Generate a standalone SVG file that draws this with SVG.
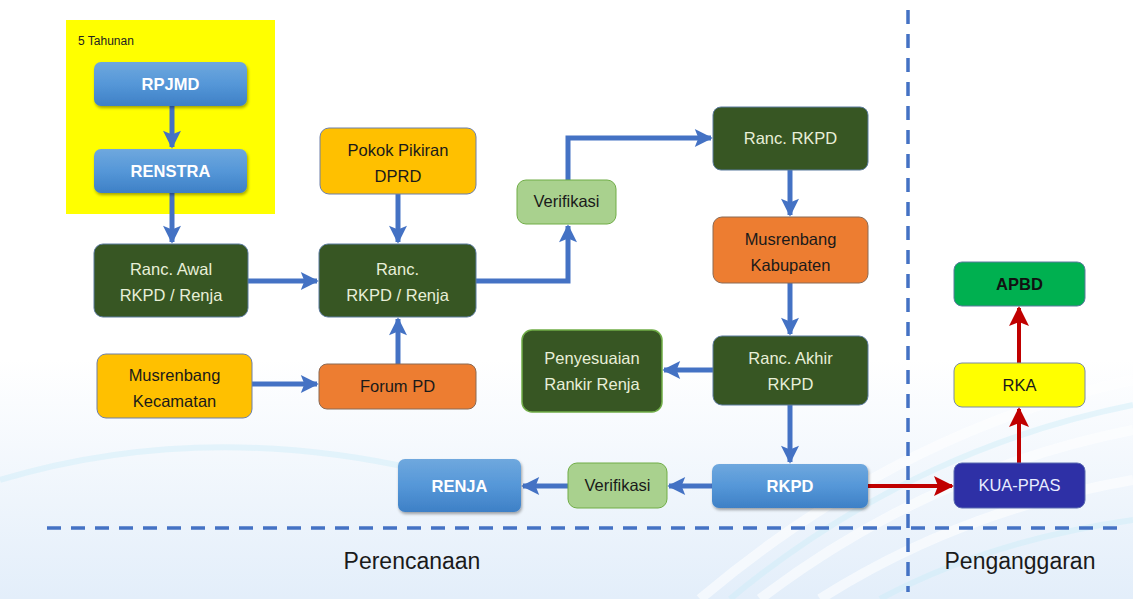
<svg xmlns="http://www.w3.org/2000/svg" width="1133" height="599" viewBox="0 0 1133 599">
<defs>
<linearGradient id="bg" x1="0" y1="0" x2="0" y2="1">
<stop offset="0" stop-color="#ffffff"/>
<stop offset="0.6" stop-color="#ffffff"/>
<stop offset="1" stop-color="#e3eefa"/>
</linearGradient>
<linearGradient id="blueg" x1="0" y1="0" x2="0" y2="1">
<stop offset="0" stop-color="#6fa8de"/>
<stop offset="0.5" stop-color="#5597d8"/>
<stop offset="1" stop-color="#3e80c6"/>
</linearGradient>
<filter id="sh" x="-10%" y="-10%" width="130%" height="140%">
<feDropShadow dx="1" dy="2" stdDeviation="1.5" flood-color="#000" flood-opacity="0.35"/>
</filter>
<marker id="ab" viewBox="0 0 10 10" refX="9" refY="5" markerWidth="4" markerHeight="3.6" orient="auto" markerUnits="strokeWidth">
<path d="M0,0 L10,5 L0,10 L2,5 Z" fill="#4472c4"/>
</marker>
<marker id="ar" viewBox="0 0 10 10" refX="9" refY="5" markerWidth="5.5" markerHeight="5" orient="auto" markerUnits="strokeWidth">
<path d="M0,0 L10,5 L0,10 L2,5 Z" fill="#c00000"/>
</marker>
<style>
.t{font-family:"Liberation Sans",Arial,sans-serif;font-size:16.5px;text-anchor:middle}
.lt{fill:#e8efd8}
.dk{fill:#1a1a1a}
.wb{fill:#ffffff;font-weight:bold}
.dg{fill:#375623;stroke:#5b7a9e;stroke-width:1}
.bl{fill:url(#blueg);filter:url(#sh)}
.or{fill:#ed7d31;stroke:#8a6a55;stroke-width:1}
.gd{fill:#ffc000;stroke:#6d7fa8;stroke-width:1}
.lg{fill:#a9d18e;stroke:#70ad47;stroke-width:1}
.c{fill:none;stroke:#4472c4;stroke-width:5;marker-end:url(#ab)}
.r{fill:none;stroke:#c00000;stroke-width:4;marker-end:url(#ar)}
.d{fill:none;stroke:#4472c4;stroke-width:3.5;stroke-dasharray:14,10}
</style>
</defs>
<rect width="1133" height="599" fill="url(#bg)"/>
<g opacity="0.6" fill="none" stroke="#ffffff" stroke-width="10">
<path d="M700,599 Q900,430 1133,380"/>
<path d="M760,599 Q930,470 1133,430"/>
<path d="M820,599 Q960,510 1133,480"/>
</g>
<g opacity="0.4" fill="none" stroke="#c8ecf8" stroke-width="6">
<path d="M730,599 Q910,450 1133,405"/>
<path d="M880,599 Q990,540 1133,520"/>
<path d="M0,480 Q200,420 420,470"/>
</g>

<g id="dividers">
<path class="d" d="M47,528 H1125"/>
<path class="d" d="M908,10 V592"/>
</g>

<g id="region-5tahunan">
<rect x="66" y="20" width="209" height="194" fill="#ffff00"/>
<text x="78" y="45" font-family="Liberation Sans,Arial,sans-serif" font-size="12" fill="#222">5 Tahunan</text>
</g>

<g id="connectors">
<path class="c" d="M172,106 V147"/>
<path class="c" d="M172,193 V242"/>
<path class="c" d="M248,281 H317"/>
<path class="c" d="M398,194 V242"/>
<path class="c" d="M398,364 V319"/>
<path class="c" d="M252,384 H317"/>
<path class="c" d="M476,281 H568 V226"/>
<path class="c" d="M568,180 V138 H711"/>
<path class="c" d="M790,170 V215"/>
<path class="c" d="M790,283 V334"/>
<path class="c" d="M713,370 H664"/>
<path class="c" d="M790,405 V462"/>
<path class="c" d="M712,486 H669"/>
<path class="c" d="M568,486 H523"/>
<path class="r" d="M868,486 H952"/>
<path class="r" d="M1019,463 V409"/>
<path class="r" d="M1019,363 V308"/>
</g>

<g id="rpjmd"><rect class="bl" x="94" y="62" width="153" height="44" rx="7"/><text class="t wb" x="170.5" y="90">RPJMD</text></g>
<g id="renstra"><rect class="bl" x="94" y="149" width="153" height="44" rx="7"/><text class="t wb" x="170.5" y="177">RENSTRA</text></g>

<g id="ranc-awal"><rect class="dg" x="94" y="244" width="154" height="73" rx="9"/><text class="t lt" x="171" y="275">Ranc. Awal</text><text class="t lt" x="171" y="301">RKPD / Renja</text></g>
<g id="ranc-rkpd-renja"><rect class="dg" x="319" y="244" width="157" height="73" rx="9"/><text class="t lt" x="397.5" y="275">Ranc.</text><text class="t lt" x="397.5" y="301">RKPD / Renja</text></g>
<g id="pokok-pikiran"><rect class="gd" x="320" y="128" width="156" height="66" rx="9"/><text class="t dk" x="398" y="156">Pokok Pikiran</text><text class="t dk" x="398" y="182">DPRD</text></g>
<g id="musrenbang-kec"><rect class="gd" x="97" y="354" width="155" height="64" rx="9"/><text class="t dk" x="174.5" y="381">Musrenbang</text><text class="t dk" x="174.5" y="407">Kecamatan</text></g>
<g id="forum-pd"><rect class="or" x="319" y="364" width="157" height="45" rx="8"/><text class="t dk" x="397.5" y="392">Forum PD</text></g>

<g id="verifikasi-1"><rect class="lg" x="517" y="180" width="99" height="44" rx="9"/><text class="t dk" x="566.5" y="207" font-size="14">Verifikasi</text></g>

<g id="ranc-rkpd"><rect class="dg" x="713" y="107" width="155" height="63" rx="8"/><text class="t lt" x="790.5" y="144">Ranc. RKPD</text></g>
<g id="musrenbang-kab"><rect class="or" x="713" y="217" width="155" height="66" rx="9"/><text class="t dk" x="790.5" y="245">Musrenbang</text><text class="t dk" x="790.5" y="271">Kabupaten</text></g>
<g id="ranc-akhir"><rect class="dg" x="713" y="336" width="155" height="69" rx="9"/><text class="t lt" x="790.5" y="364">Ranc. Akhir</text><text class="t lt" x="790.5" y="390">RKPD</text></g>
<g id="penyesuaian"><rect x="522" y="330" width="140" height="82" rx="10" fill="#375623" stroke="#70ad47" stroke-width="1.5"/><text class="t lt" x="592" y="364">Penyesuaian</text><text class="t lt" x="592" y="390">Rankir Renja</text></g>

<g id="rkpd"><rect class="bl" x="712" y="464" width="156" height="44" rx="7"/><text class="t wb" x="790" y="492">RKPD</text></g>
<g id="verifikasi-2"><rect class="lg" x="568" y="463" width="99" height="45" rx="9"/><text class="t dk" x="617.5" y="491" font-size="14">Verifikasi</text></g>
<g id="renja"><rect class="bl" x="398" y="459" width="123" height="53" rx="7"/><text class="t wb" x="459.5" y="492">RENJA</text></g>

<g id="kua-ppas"><rect x="954" y="463" width="131" height="45" rx="8" fill="#2e30a6" stroke="#5a6ab0" stroke-width="1"/><text class="t" x="1019.5" y="491" fill="#e8ecff" font-size="15">KUA-PPAS</text></g>
<g id="rka"><rect x="954" y="363" width="131" height="44" rx="8" fill="#ffff00" stroke="#7a8aa8" stroke-width="1"/><text class="t dk" x="1019.5" y="391" font-size="15">RKA</text></g>
<g id="apbd"><rect x="954" y="262" width="131" height="44" rx="8" fill="#00b050" stroke="#5b7a9e" stroke-width="1"/><text class="t" x="1019.5" y="290" font-size="15" font-weight="bold" fill="#111">APBD</text></g>

<g id="labels">
<text x="412" y="569" font-family="Liberation Sans,Arial,sans-serif" font-size="23" fill="#1a1a1a" text-anchor="middle">Perencanaan</text>
<text x="1020" y="569" font-family="Liberation Sans,Arial,sans-serif" font-size="23" fill="#1a1a1a" text-anchor="middle">Penganggaran</text>
</g>
</svg>
